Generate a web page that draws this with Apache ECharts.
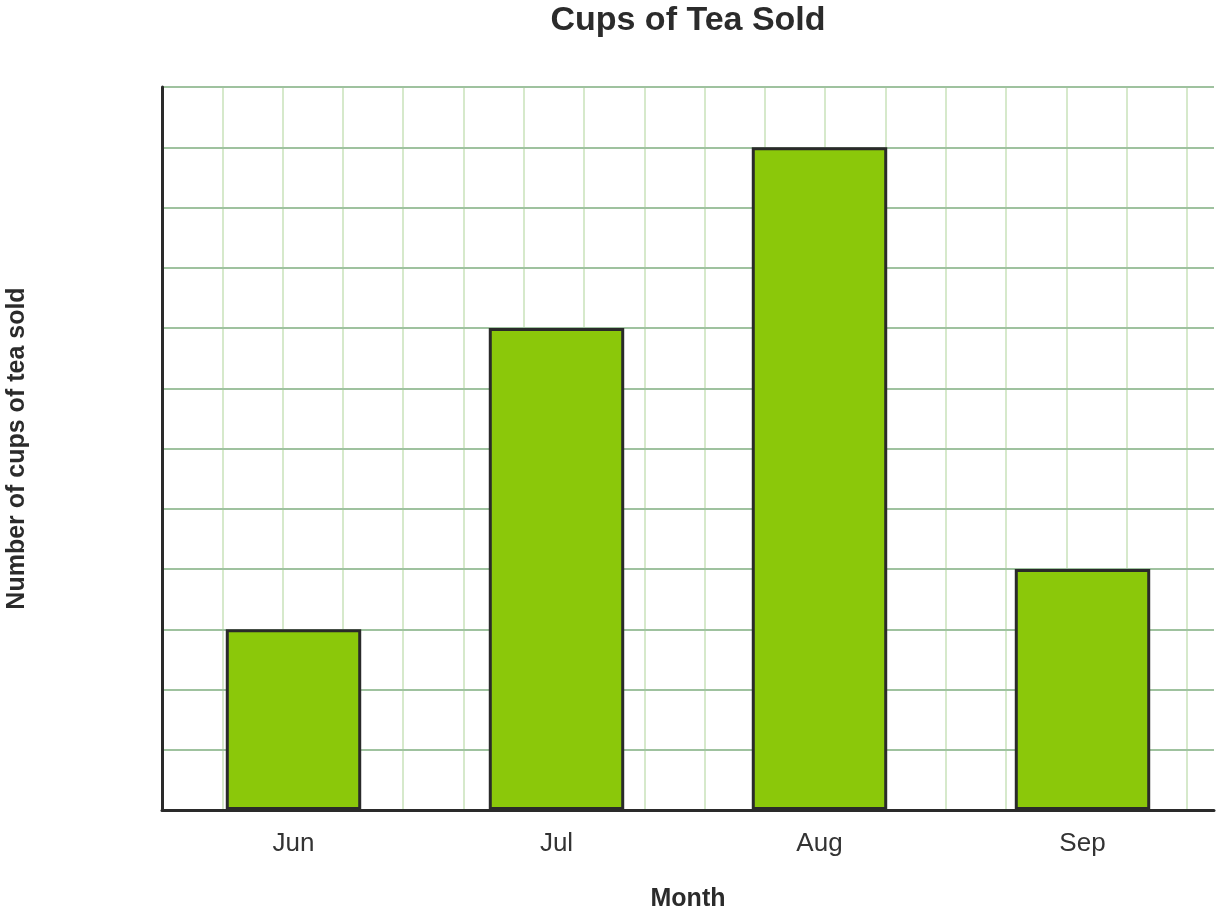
<!DOCTYPE html>
<html>
<head>
<meta charset="utf-8">
<script src="https://cdn.jsdelivr.net/npm/echarts@6/dist/echarts.min.js"></script>
<style>
html,body{margin:0;padding:0;background:#fff;}
#chart{width:1220px;height:913px;}
</style>
</head>
<body>
<div id="chart"></div>
<script>
var months = ['Jun', 'Jul', 'Aug', 'Sep'];
var cupsSold = [3, 8, 11, 4];
var yMax = 12;
var gridColumns = 17.45;

var vColors = [];
for (var i = 0; i < 18; i++) vColors.push('#d6e9cb');
vColors.push('rgba(0,0,0,0)');

var chart = echarts.init(document.getElementById('chart'), null, {renderer: 'canvas'});
chart.setOption({
  animation: false,
  backgroundColor: '#ffffff',
  textStyle: {fontFamily: 'Liberation Sans, Arial, sans-serif'},
  title: {
    text: 'Cups of Tea Sold',
    left: 688,
    top: 4,
    padding: 0,
    textAlign: 'center',
    textStyle: {fontSize: 34, fontWeight: 'bold', color: '#2b2b2b', fontFamily: 'Liberation Sans, Arial, sans-serif'}
  },
  grid: {left: 162, right: 6, top: 87, bottom: 103, containLabel: false, outerBoundsMode: 'none'},
  xAxis: [{
    type: 'category',
    data: months,
    name: 'Month',
    nameLocation: 'middle',
    nameGap: 77,
    nameTextStyle: {fontSize: 25, fontWeight: 'bold', color: '#2b2b2b'},
    axisLine: {show: true, lineStyle: {color: '#2a2a2a', width: 3}},
    axisTick: {show: false},
    axisLabel: {fontSize: 26, color: '#333333', margin: 21},
    splitLine: {show: false},
    z: 5
  }, {
    type: 'value',
    min: 0,
    max: gridColumns,
    interval: 1,
    position: 'bottom',
    axisLine: {show: false},
    axisTick: {show: false},
    axisLabel: {show: false},
    splitLine: {show: true, lineStyle: {color: vColors, width: 2}},
    z: 0
  }],
  yAxis: {
    type: 'value',
    min: 0,
    max: yMax,
    interval: 1,
    name: 'Number of cups of tea sold',
    nameLocation: 'middle',
    nameRotate: 90,
    nameGap: 132,
    nameTextStyle: {fontSize: 25, fontWeight: 'bold', color: '#2b2b2b'},
    axisLine: {show: true, lineStyle: {color: '#2a2a2a', width: 3}},
    axisTick: {show: false},
    axisLabel: {show: false},
    splitLine: {show: true, lineStyle: {color: '#9fc29f', width: 2}},
    z: 1
  },
  series: [{
    type: 'bar',
    xAxisIndex: 0,
    data: cupsSold,
    barWidth: '51.5%',
    itemStyle: {color: '#8bc80a', borderColor: '#2a2a2a', borderWidth: 3},
    z: 3
  }]
});
</script>
</body>
</html>
